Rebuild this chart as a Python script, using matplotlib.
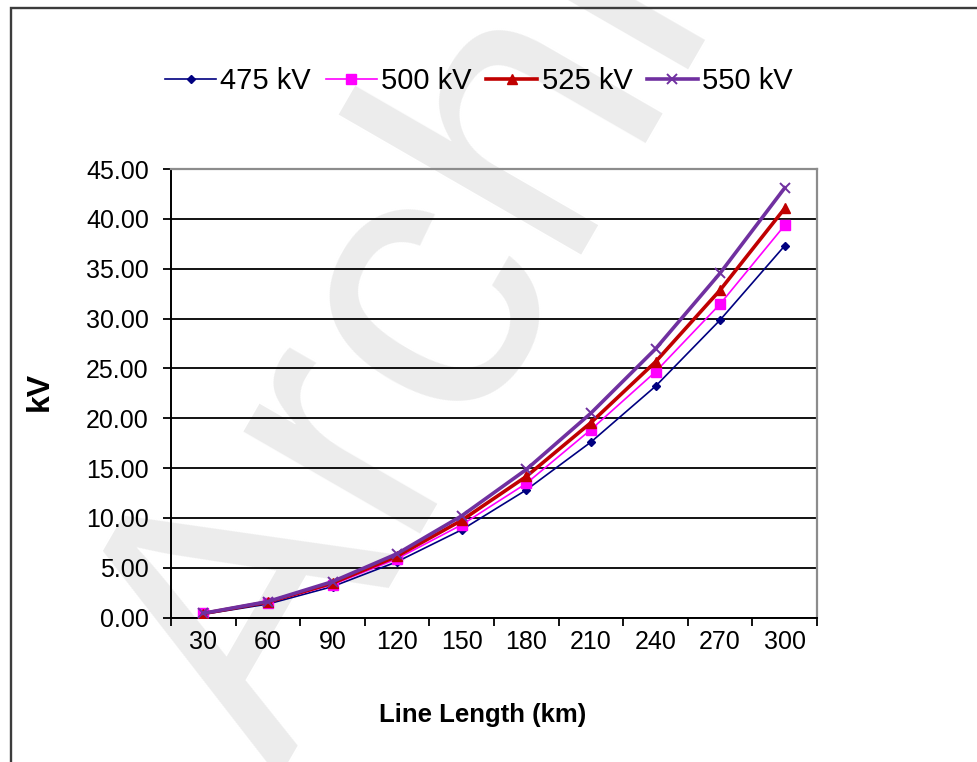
import numpy as np
import matplotlib
matplotlib.use('Agg')
import matplotlib.pyplot as plt
from matplotlib.patches import Rectangle

plt.rcParams['font.family'] = ['Liberation Sans', 'DejaVu Sans']

# data
lengths = ['30', '60', '90', '120', '150', '180', '210', '240', '270', '300']
kv_475 = [0.32, 1.35, 3.10, 5.60, 8.80, 12.80, 17.60, 23.20, 29.85, 37.30]
kv_500 = [0.45, 1.50, 3.30, 5.90, 9.30, 13.45, 18.85, 24.65, 31.45, 39.35]
kv_525 = [0.40, 1.55, 3.45, 6.15, 9.75, 14.15, 19.55, 25.65, 32.85, 41.05]
kv_550 = [0.42, 1.60, 3.60, 6.40, 10.20, 14.85, 20.50, 26.95, 34.55, 43.10]
series_names = ['475 kV', '500 kV', '525 kV', '550 kV']
y_ticks = [0, 5, 10, 15, 20, 25, 30, 35, 40, 45]

W, H = 977, 762


def px(x, y):
    # pixel position in the reference -> figure fraction
    return x / W, 1 - y / H


fig = plt.figure(figsize=(W / 100, H / 100), dpi=100)

# faint watermark behind everything
fig.text(*px(279, 778), 'Archive', fontsize=278, color='#ececec',
         rotation=60, rotation_mode='anchor', ha='left', va='baseline',
         zorder=-1)

ax = fig.add_axes([171 / W, 1 - 617.5 / H, (817 - 171) / W, (617.5 - 169) / H])
ax.set_facecolor('none')

x = np.arange(len(lengths))
styles = [
    dict(color='#000080', lw=1.2, marker='D', ms=4.5),
    dict(color='#ff00ff', lw=1.2, marker='s', ms=6.5),
    dict(color='#c00000', lw=2.6, marker='^', ms=6.5),
    dict(color='#7030a0', lw=2.6, marker='x', ms=7, mew=1.4),
]
handles = []
for vals, st in zip([kv_475, kv_500, kv_525, kv_550], styles):
    h, = ax.plot(x, vals, zorder=3, **st)
    handles.append(h)

ax.set_xlim(-0.5, len(lengths) - 0.5)
ax.set_ylim(0, 45)

# category axis: ticks between categories, labels on categories
ax.set_xticks(np.arange(-0.5, len(lengths), 1))
ax.set_xticks(x, minor=True)
ax.set_xticklabels(lengths, minor=True)
ax.tick_params(axis='x', which='major', length=6, width=1.3, direction='out',
               labelbottom=False)
ax.tick_params(axis='x', which='minor', length=0, pad=9, labelsize=18)

ax.set_yticks(y_ticks)
ax.set_yticklabels(['%.2f' % v for v in y_ticks])
ax.tick_params(axis='y', length=6, width=1.3, direction='out', pad=10,
               labelsize=18)

ax.set_axisbelow(True)
ax.yaxis.grid(True, color='black', lw=1.3)

for s in ['left', 'bottom']:
    ax.spines[s].set_color('black')
    ax.spines[s].set_linewidth(1.4)
for s in ['top', 'right']:
    ax.spines[s].set_color('#8c8c8c')
    ax.spines[s].set_linewidth(1.6)

fig.text(*px(483, 715), 'Line Length (km)', fontsize=18.5, fontweight='bold',
         ha='center', va='center')
fig.text(*px(40, 391), 'kV', fontsize=23, fontweight='bold', rotation=90,
         ha='center', va='center')

fig.legend(handles, series_names, loc='center', bbox_to_anchor=px(479, 81),
           ncol=4, frameon=False, fontsize=21, handlelength=1.75,
           handletextpad=0.15, columnspacing=0.5, borderpad=0,
           borderaxespad=0)

# chart area frame (only left and top edges are inside the picture)
fig.add_artist(Rectangle(px(11, 1200), 2, (1200 - 8) / H, transform=fig.transFigure,
                         fill=False, edgecolor='#3c3c3c', lw=1.7, clip_on=False))

fig.savefig('out.png', dpi=100)
